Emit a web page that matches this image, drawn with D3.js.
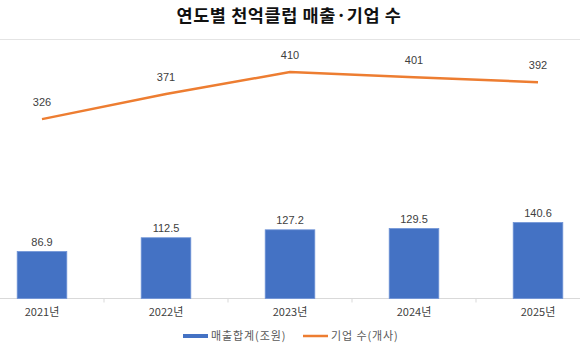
<!DOCTYPE html>
<html>
<head>
<meta charset="utf-8">
<script src="https://cdn.jsdelivr.net/npm/d3@7"></script>
<style>
  html, body { margin: 0; padding: 0; background: #fff; }
  svg { display: block; font-family: "Noto Sans CJK KR", "Noto Sans", sans-serif; }
</style>
</head>
<body>
<svg id="chart" width="580" height="349"></svg>
<script>
// Annual figures for companies with 100B+ KRW in sales
const years = ["2021년", "2022년", "2023년", "2024년", "2025년"];
const salesTotal = [86.9, 112.5, 127.2, 129.5, 140.6];   // 매출합계 (조원)
const companyCount = [326, 371, 410, 401, 392];          // 기업 수 (개사)
const legendLabels = ["매출합계(조원)", "기업 수(개사)"];
const titleText = "연도별 천억클럽 매출·기업 수";

const svg = d3.select("#chart");
const W = 580, H = 349;
const baseY = 298.5;

const x = d3.scaleBand().domain(years).range([-20, 600]).paddingInner(0.6).paddingOuter(0.3);
const yBar = d3.scaleLinear().domain([0, 500]).range([baseY, baseY - 270]);
const yLine = d3.scaleLinear().domain([0, 500]).range([301.5, 301.5 - 279.75]);

const blue = "#4472C4", orange = "#ED7D31", textCol = "#404040";

// Title and separator
svg.append("text").attr("x", 289).attr("y", 21.5).attr("text-anchor", "middle")
  .attr("font-size", 17.5).attr("font-weight", "bold").attr("fill", "#111")
  .attr("letter-spacing", 0.6).text(titleText);
svg.append("line").attr("x1", 0).attr("x2", W).attr("y1", 39.5).attr("y2", 39.5)
  .attr("stroke", "#e4e4e4").attr("stroke-width", 1.2);

// Category axis
const axis = d3.axisBottom(x).tickSize(0).tickPadding(8);
const gx = svg.append("g").attr("transform", `translate(0,${baseY})`).call(axis);
gx.select(".domain").remove();
gx.selectAll("text").attr("font-size", 11).attr("fill", textCol)
  .attr("font-family", "'Noto Sans CJK KR', sans-serif").attr("dy", "0.9em");
svg.append("line").attr("x1", 0).attr("x2", W).attr("y1", baseY).attr("y2", baseY)
  .attr("stroke", "#d9d9d9").attr("stroke-width", 1);
// tick marks on the boundaries between categories
const boundary = d => x(d) - (x.step() - x.bandwidth()) / 2;
svg.selectAll(".sep").data(years.slice(1)).join("line")
  .attr("x1", boundary).attr("x2", boundary)
  .attr("y1", baseY).attr("y2", baseY + 4).attr("stroke", "#d9d9d9");

// Bars
svg.selectAll(".bar").data(salesTotal).join("rect")
  .attr("x", (d, i) => x(years[i]))
  .attr("width", x.bandwidth())
  .attr("y", d => yBar(d))
  .attr("height", d => baseY - yBar(d))
  .attr("fill", blue).attr("stroke", "#6f93d6").attr("stroke-width", 0.8);

svg.selectAll(".barLbl").data(salesTotal).join("text")
  .attr("x", (d, i) => x(years[i]) + x.bandwidth() / 2)
  .attr("y", d => yBar(d) - 6)
  .attr("text-anchor", "middle").attr("font-size", 11).attr("fill", textCol)
  .attr("font-family", "'Liberation Sans', Arial, sans-serif")
  .text(d => d.toFixed(1));

// Line
const cx = i => x(years[i]) + x.bandwidth() / 2;
svg.append("path").datum(companyCount)
  .attr("d", d3.line().x((d, i) => cx(i)).y(d => yLine(d)))
  .attr("fill", "none").attr("stroke", orange).attr("stroke-width", 2.5);

svg.selectAll(".lineLbl").data(companyCount).join("text")
  .attr("x", (d, i) => cx(i))
  .attr("y", d => yLine(d) - 13)
  .attr("text-anchor", "middle").attr("font-size", 11).attr("fill", textCol)
  .attr("font-family", "'Liberation Sans', Arial, sans-serif")
  .text(d => d);

// Legend
const legend = svg.append("g").attr("transform", "translate(0,336)");
const items = [
  { label: legendLabels[0], color: blue, x: 183 },
  { label: legendLabels[1], color: orange, x: 303 }
];
items.forEach(it => {
  legend.append("line").attr("x1", it.x).attr("x2", it.x + 25).attr("y1", 0).attr("y2", 0)
    .attr("stroke", it.color).attr("stroke-width", it.color === blue ? 4 : 2.5);
  legend.append("text").attr("x", it.x + 28).attr("y", 4).attr("font-size", 11)
    .attr("letter-spacing", 0.9).attr("fill", "#595959").text(it.label);
});
</script>
</body>
</html>
